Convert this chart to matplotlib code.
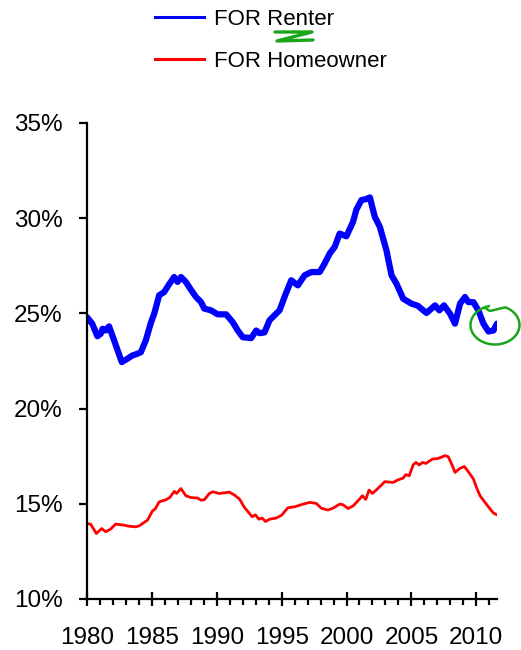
import matplotlib
matplotlib.use("Agg")
import numpy as np
import matplotlib.pyplot as plt
from matplotlib.lines import Line2D
from matplotlib.ticker import MultipleLocator, FuncFormatter

plt.rcParams['font.family'] = ['Liberation Sans', 'DejaVu Sans']

# FOR (financial obligations ratio) for renters, % of disposable income
renter_years = [1980.0, 1980.4, 1980.8, 1981.06, 1981.2, 1981.44, 1981.7, 1982.09,
                1982.68, 1983.12, 1983.5, 1983.89, 1984.15, 1984.53, 1984.92, 1985.18,
                1985.56, 1985.95, 1986.3, 1986.72, 1986.98, 1987.24, 1987.62, 1988.0,
                1988.4, 1988.78, 1989.04, 1989.56, 1990.07, 1990.72, 1991.23, 1991.62,
                1992.0, 1992.65, 1993.04, 1993.3, 1993.68, 1994.06, 1994.45, 1994.84,
                1995.3, 1995.74, 1996.25, 1996.77, 1997.28, 1997.93, 1998.3, 1998.7,
                1999.09, 1999.47, 1999.99, 2000.5, 2000.76, 2001.15, 2001.5, 2001.8,
                2002.18, 2002.57, 2003.08, 2003.47, 2003.85, 2004.37, 2005.01, 2005.5,
                2005.91, 2006.17, 2006.82, 2007.15, 2007.51, 2007.98, 2008.36, 2008.75,
                2009.13, 2009.39, 2009.78, 2010.16, 2010.55, 2010.94, 2011.32, 2011.6]
renter_for = [24.8, 24.46, 23.8, 23.93, 24.19, 24.1, 24.32, 23.58,
              22.44, 22.62, 22.79, 22.88, 22.96, 23.58, 24.5, 24.98,
              25.95, 26.12, 26.5, 26.91, 26.65, 26.91, 26.65, 26.25,
              25.86, 25.6, 25.25, 25.16, 24.95, 24.95, 24.54, 24.1,
              23.75, 23.7, 24.1, 23.96, 24.0, 24.63, 24.9, 25.16,
              26.0, 26.74, 26.47, 27.0, 27.17, 27.17, 27.6, 28.14,
              28.49, 29.19, 29.05, 29.8, 30.45, 30.95, 31.0, 31.09,
              30.07, 29.54, 28.3, 27.0, 26.56, 25.77, 25.51, 25.4,
              25.16, 25.02, 25.42, 25.16, 25.42, 24.98, 24.46, 25.51,
              25.86, 25.59, 25.59, 25.16, 24.46, 24.05, 24.1, 24.46]

owner_years = [1980.0, 1980.28, 1980.72, 1981.13, 1981.44, 1981.82, 1982.2, 1982.72,
               1983.24, 1983.76, 1984.02, 1984.4, 1984.66, 1985.05, 1985.25, 1985.56,
               1986.08, 1986.38, 1986.72, 1986.9, 1987.24, 1987.62, 1988.01, 1988.52,
               1988.78, 1989.04, 1989.43, 1989.69, 1990.2, 1990.97, 1991.36, 1991.75,
               1992.13, 1992.73, 1992.98, 1993.24, 1993.5, 1993.76, 1994.07, 1994.58,
               1995.0, 1995.48, 1996.0, 1996.64, 1997.16, 1997.67, 1998.05, 1998.57,
               1998.96, 1999.47, 1999.73, 2000.12, 2000.51, 2000.89, 2001.22, 2001.48,
               2001.74, 2002.0, 2002.44, 2002.95, 2003.59, 2003.98, 2004.37, 2004.57,
               2004.83, 2005.14, 2005.35, 2005.6, 2005.86, 2006.12, 2006.63, 2007.07,
               2007.59, 2007.84, 2008.1, 2008.36, 2008.75, 2009.08, 2009.39, 2009.78,
               2010.04, 2010.29, 2010.68, 2011.07, 2011.33, 2011.59]
owner_for = [13.96, 13.93, 13.44, 13.7, 13.53, 13.67, 13.93, 13.89,
             13.82, 13.79, 13.84, 14.02, 14.14, 14.63, 14.72, 15.1,
             15.21, 15.33, 15.65, 15.54, 15.8, 15.42, 15.33, 15.3,
             15.19, 15.21, 15.54, 15.63, 15.54, 15.61, 15.46, 15.25,
             14.81, 14.32, 14.42, 14.19, 14.25, 14.07, 14.19, 14.25,
             14.4, 14.79, 14.84, 14.98, 15.07, 15.02, 14.77, 14.67,
             14.77, 14.98, 14.95, 14.75, 14.89, 15.16, 15.42, 15.23,
             15.72, 15.54, 15.82, 16.16, 16.12, 16.26, 16.35, 16.53,
             16.47, 17.05, 17.17, 17.04, 17.17, 17.12, 17.35, 17.38,
             17.53, 17.47, 17.09, 16.65, 16.86, 16.96, 16.68, 16.3,
             15.82, 15.42, 15.07, 14.72, 14.51, 14.42]

fig = plt.figure(figsize=(5.21, 6.5), dpi=100)
ax = fig.add_axes([0.167, 0.0785, 0.787, 0.7323])

ax.plot(renter_years, renter_for, color="#0000ff", lw=4.5, solid_capstyle="round",
        solid_joinstyle="round")
ax.plot(owner_years, owner_for, color="#ff0000", lw=2.0)

ax.set_xlim(1980, 2011.6)
ax.set_ylim(10, 35)
ax.yaxis.set_major_locator(MultipleLocator(5))
ax.yaxis.set_major_formatter(FuncFormatter(lambda v, p: f"{v:.0f}%"))
ax.xaxis.set_major_locator(MultipleLocator(5))
ax.xaxis.set_minor_locator(MultipleLocator(1))

for side in ("top", "right"):
    ax.spines[side].set_visible(False)
for side in ("left", "bottom"):
    ax.spines[side].set_linewidth(1.6)

ax.tick_params(axis="y", direction="out", length=5.5, width=1.6, pad=12, labelsize=17.5)
ax.tick_params(axis="x", which="major", direction="inout", length=10, width=1.6, pad=15,
               labelsize=17.5)
ax.tick_params(axis="x", which="minor", direction="out", length=4, width=1.6)

handles = [Line2D([], [], color="#0000ff", lw=2.2),
           Line2D([], [], color="#ff0000", lw=2.2)]
fig.legend(handles, ["FOR Renter", "FOR Homeowner"], loc="upper left",
           bbox_to_anchor=(0.26, 1.017), frameon=False, fontsize=16,
           handlelength=2.2, handletextpad=0.45, labelspacing=0.95)

# green hand-drawn marks (pixel coords of the figure)
def px(xs, ys):
    return [x / 521 for x in xs], [1 - y / 650 for y in ys]

zx, zy = px([275, 312, 277, 313], [32, 32, 41, 40])
fig.add_artist(Line2D(zx, zy, color="#1aa51a", lw=2.4, solid_capstyle="round"))

t = np.linspace(np.radians(105), np.radians(425), 60)
loop_x = list(495 + 24.5 * np.cos(t)) + [490, 485]
loop_y = list(325 - 19.5 * np.sin(t)) + [311, 308]
lx, ly = px(loop_x, loop_y)
fig.add_artist(Line2D(lx, ly, color="#1aa51a", lw=1.8, solid_joinstyle="round"))

plt.savefig("out.png", dpi=100)
